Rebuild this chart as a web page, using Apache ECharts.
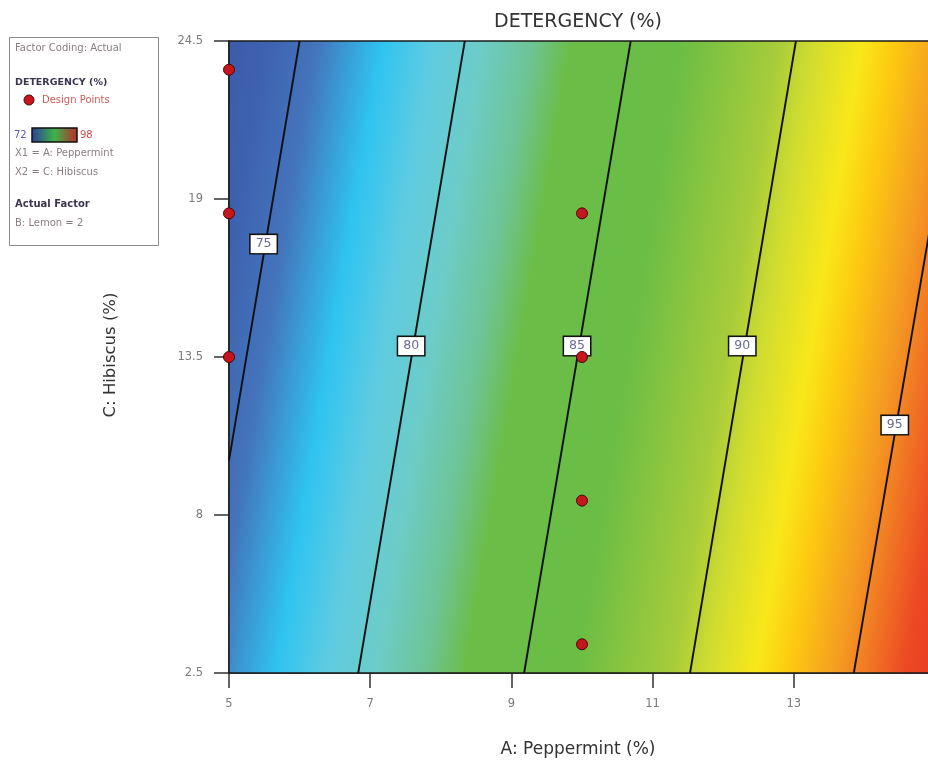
<!DOCTYPE html>
<html>
<head>
<meta charset="utf-8">
<script src="https://cdn.jsdelivr.net/npm/echarts@6/dist/echarts.min.js"></script>
<style>
html,body{margin:0;padding:0;background:#fff;}
#c{width:928px;height:762px;}
</style>
</head>
<body>
<div id="c"></div>
<script>
// ---- data ----
const xMin = 5, xMax = 15, xInterval = 2;
const yMin = 2.5, yMax = 24.5, yInterval = 5.5;

const contourLevels = [75, 80, 85, 90, 95];
const contourStartA = [5.00, 6.83, 9.18, 11.53, 13.85];
const contourStartC = [9.9, 2.5, 2.5, 2.5, 2.5];
const contourEndA   = [6.00, 8.34, 10.69, 13.03, 15.00];
const contourEndC   = [24.5, 24.5, 24.5, 24.5, 19.0];

const labelA = [5.49, 7.58, 9.93, 12.27, 14.43];
const labelC = [17.43, 13.88, 13.88, 13.88, 11.13];

const designA = [5, 5, 5, 10, 10, 10, 10];
const designC = [23.5, 18.5, 13.5, 18.5, 13.5, 8.5, 3.5];

const rangeMin = 72, rangeMax = 98;
const colorScaleValues = [72, 74, 75.5, 77.5, 79, 80.5, 82, 83.2, 86.5, 89.5, 90.5, 92, 93, 94.5, 96.5, 98];
const colorScaleColors = ['#3b56a6', '#3e62b0', '#4474bb', '#2ec4f0', '#5ecbe2', '#6cccc8', '#6ec496', '#6bbd48',
                          '#6abd45', '#a8cc3a', '#cfdc30', '#f8e81a', '#fcca10', '#f49a22', '#ec4a24', '#e63322'];

const titleText = 'DETERGENCY (%)';
const xName = 'A: Peppermint (%)';
const yName = 'C: Hibiscus (%)';

// ---- build ----
const FONT = 'DejaVu Sans';
const colorStops = colorScaleValues.map((v, i) => ({
  offset: (v - rangeMin) / (rangeMax - rangeMin), color: colorScaleColors[i]
}));

function renderBackground(params, api) {
  const tl = api.coord([xMin, yMax]);
  const br = api.coord([xMax, yMin]);
  let dx = 0, dy = 0;
  const mids = [];
  for (let k = 0; k < contourLevels.length; k++) {
    const a = api.coord([contourStartA[k], contourStartC[k]]);
    const b = api.coord([contourEndA[k], contourEndC[k]]);
    dx += b[0] - a[0]; dy += b[1] - a[1];
    mids.push([(a[0] + b[0]) / 2, (a[1] + b[1]) / 2]);
  }
  const len = Math.hypot(dx, dy);
  const ux = dx / len, uy = dy / len;
  const nx = -uy, ny = ux;
  const ts = mids.map(m => m[0] * nx + m[1] * ny);
  const n = ts.length;
  const mt = ts.reduce((s, t) => s + t, 0) / n;
  const mv = contourLevels.reduce((s, v) => s + v, 0) / n;
  let sxy = 0, sxx = 0;
  for (let k = 0; k < n; k++) { sxy += (ts[k] - mt) * (contourLevels[k] - mv); sxx += (ts[k] - mt) * (ts[k] - mt); }
  const b = sxy / sxx, a = mv - b * mt;
  const t0 = (rangeMin - a) / b, t1 = (rangeMax - a) / b;
  return {
    type: 'rect',
    shape: { x: tl[0], y: tl[1], width: br[0] - tl[0], height: br[1] - tl[1] },
    style: {
      fill: { type: 'linear', x: nx * t0, y: ny * t0, x2: nx * t1, y2: ny * t1, global: true, colorStops: colorStops },
      stroke: '#1a1a1a', lineWidth: 1.5
    }
  };
}

const lineSeries = contourLevels.map((lv, k) => ({
  type: 'line', name: 'c' + lv, z: 3, silent: true, symbol: 'none',
  data: [[contourStartA[k], contourStartC[k]], [contourEndA[k], contourEndC[k]]],
  lineStyle: { color: '#111', width: 1.9 }
}));

const option = {
  animation: false,
  backgroundColor: '#fff',
  grid: { left: 229, top: 41, width: 706, height: 632, show: false, outerBoundsMode: 'none', containLabel: false },
  xAxis: {
    type: 'value', min: xMin, max: xMax, interval: xInterval,
    axisLine: { show: true, lineStyle: { color: '#1a1a1a', width: 1.5 } },
    axisTick: { show: true, length: 15, lineStyle: { color: '#333', width: 1.5 } },
    axisLabel: { color: '#7a7a7a', fontSize: 11.5, fontFamily: FONT, margin: 25, hideOverlap: false },
    splitLine: { show: false }
  },
  yAxis: {
    type: 'value', min: yMin, max: yMax, interval: yInterval,
    axisLine: { show: true, lineStyle: { color: '#1a1a1a', width: 1.5 } },
    axisTick: { show: true, length: 15, lineStyle: { color: '#333', width: 1.5 } },
    axisLabel: { color: '#7a7a7a', fontSize: 11.5, fontFamily: FONT, margin: 26 },
    splitLine: { show: false }
  },
  series: [
    { type: 'custom', z: 1, silent: true, clip: false, renderItem: renderBackground, data: [[xMin, yMin]] },
    ...lineSeries,
    {
      type: 'scatter', z: 4, silent: true, symbol: 'rect', symbolSize: 1,
      itemStyle: { color: 'rgba(0,0,0,0)', opacity: 1 },
      data: contourLevels.map((lv, k) => [labelA[k], labelC[k], lv]),
      label: {
        show: true, position: 'inside', formatter: p => String(p.value[2]),
        backgroundColor: '#fff', borderColor: '#111', borderWidth: 1.5, opacity: 1,
        padding: [3, 5, 2, 5], color: '#6a6a96', fontSize: 12.5, fontFamily: FONT
      }
    },
    {
      type: 'scatter', z: 5, silent: true, symbol: 'circle', symbolSize: 11,
      itemStyle: { color: '#c4161c', borderColor: '#4a0606', borderWidth: 1, opacity: 1 },
      data: designA.map((a, i) => [a, designC[i]])
    }
  ],
  graphic: [
    { type: 'text', x: 578, y: 22, z: 10, style: { text: titleText, fill: '#333', font: '19px "DejaVu Sans"', align: 'center', verticalAlign: 'middle' } },
    { type: 'text', x: 578, y: 750, z: 10, style: { text: xName, fill: '#333', font: '17px "DejaVu Sans"', align: 'center', verticalAlign: 'middle' } },
    { type: 'text', x: 111, y: 355, rotation: Math.PI / 2, z: 10, style: { text: yName, fill: '#333', font: '16.5px "DejaVu Sans"', align: 'center', verticalAlign: 'middle' } },
    // legend box
    { type: 'rect', z: 10, shape: { x: 9.5, y: 37.5, width: 149, height: 208 }, style: { fill: '#fff', stroke: '#8a8a8a', lineWidth: 1 } },
    { type: 'text', x: 15, y: 48, z: 11, style: { text: 'Factor Coding: Actual', fill: '#8a7c84', font: '10px "DejaVu Sans"', verticalAlign: 'middle' } },
    { type: 'text', x: 15, y: 83, z: 11, style: { text: 'DETERGENCY (%)', fill: '#3d3550', font: 'bold 9.5px "DejaVu Sans"', verticalAlign: 'middle' } },
    { type: 'circle', z: 11, shape: { cx: 29, cy: 100, r: 5 }, style: { fill: '#c4161c', stroke: '#4a0606', lineWidth: 1 } },
    { type: 'text', x: 42, y: 100, z: 11, style: { text: 'Design Points', fill: '#d05a5a', font: '10px "DejaVu Sans"', verticalAlign: 'middle' } },
    { type: 'text', x: 14, y: 135, z: 11, style: { text: '72', fill: '#5a5ab4', font: '10px "DejaVu Sans"', verticalAlign: 'middle' } },
    { type: 'rect', z: 11, shape: { x: 32, y: 128, width: 45, height: 14 }, style: {
        fill: { type: 'linear', x: 0, y: 0, x2: 1, y2: 0, colorStops: [
          { offset: 0, color: '#2a3c9c' }, { offset: 0.5, color: '#3cb44a' }, { offset: 1, color: '#c0282a' }] },
        stroke: '#111', lineWidth: 1.5 } },
    { type: 'text', x: 80, y: 135, z: 11, style: { text: '98', fill: '#d84a4a', font: '10px "DejaVu Sans"', verticalAlign: 'middle' } },
    { type: 'text', x: 15, y: 153, z: 11, style: { text: 'X1 = A: Peppermint', fill: '#8a7c84', font: '10px "DejaVu Sans"', verticalAlign: 'middle' } },
    { type: 'text', x: 15, y: 172, z: 11, style: { text: 'X2 = C: Hibiscus', fill: '#8a7c84', font: '10px "DejaVu Sans"', verticalAlign: 'middle' } },
    { type: 'text', x: 15, y: 204, z: 11, style: { text: 'Actual Factor', fill: '#3d3550', font: 'bold 10px "DejaVu Sans"', verticalAlign: 'middle' } },
    { type: 'text', x: 15, y: 223, z: 11, style: { text: 'B: Lemon = 2', fill: '#8a7c84', font: '10px "DejaVu Sans"', verticalAlign: 'middle' } }
  ]
};

const chart = echarts.init(document.getElementById('c'));
chart.setOption(option);
</script>
</body>
</html>
